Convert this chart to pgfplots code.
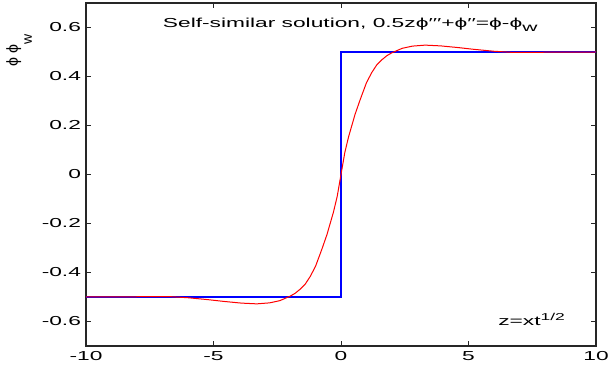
\documentclass[border=0pt]{standalone}
\usepackage{fontspec}
\setmainfont{Liberation Sans}[FakeStretch=1.75]
\newfontfamily\plainsans{Liberation Sans}
\usepackage{pgfplots}
\pgfplotsset{compat=1.18}
\definecolor{mblue}{RGB}{0,0,255}
\definecolor{mred}{RGB}{255,0,0}
\begin{document}
\begin{tikzpicture}
\begin{axis}[
  scale only axis, width=510pt, height=343pt,
  xmin=-10, xmax=10, ymin=-0.7, ymax=0.7,
  xtick={-10,-5,0,5,10},
  ytick={-0.6,-0.4,-0.2,0,0.2,0.4,0.6},
  tick pos=both, tick align=inside, major tick length=5pt,
  axis line style={black!85, line width=1.1pt},
  tick style={black!85, line width=0.8pt},
  tick label style={font=\fontsize{13}{15}\selectfont},
  /pgf/number format/assume math mode=true,
  yticklabel style={xshift=-1.5pt},
  xticklabel style={yshift=-2pt},
  clip=false,
]
\addplot[draw=mblue, line width=1.3pt] coordinates {(-10,-0.5) (0,-0.5) (0,0.5) (10,0.5)};
\addplot[draw=mred, line width=1pt] coordinates {
(-10,-0.5) (-8,-0.499) (-6.8,-0.498) (-6.0,-0.503) (-5.2,-0.511) (-4.6,-0.518)
(-3.9,-0.525) (-3.3,-0.528) (-2.8,-0.524) (-2.4,-0.515) (-2.0,-0.497) (-1.8,-0.485)
(-1.6,-0.468) (-1.4,-0.447) (-1.2,-0.415) (-1.0,-0.375) (-0.75,-0.305) (-0.55,-0.245)
(-0.3,-0.155) (-0.15,-0.09) (0,0)
(0.15,0.09) (0.3,0.155) (0.55,0.245) (0.75,0.305) (1.0,0.375) (1.2,0.415)
(1.4,0.447) (1.6,0.468) (1.8,0.485) (2.0,0.497) (2.4,0.515) (2.8,0.524)
(3.3,0.528) (3.9,0.525) (4.6,0.518) (5.2,0.511) (6.0,0.503) (6.8,0.498)
(8,0.499) (10,0.5)};
\coordinate (SW) at (rel axis cs:0,0);
\coordinate (NE) at (rel axis cs:1,1);
\node[anchor=base, font=\fontsize{13}{15}\selectfont, inner sep=0pt] at (rel axis cs:0.518,0.929)
  {Self-similar solution, 0.5zϕ′′′+ϕ′′=ϕ-ϕ\raisebox{-4pt}{\fontsize{12}{12}\selectfont w}};
\node[anchor=base west, font=\fontsize{13}{15}\selectfont, inner sep=0pt] at (rel axis cs:0.808,0.061)
  {z=xt\raisebox{5pt}{\fontsize{10}{10}\selectfont 1/2}};
\end{axis}
\node[rotate=90, anchor=base west, inner sep=0pt] at ([shift={(-68pt,279pt)}]SW)
  {\plainsans\fontsize{16}{18}\selectfont ϕ ϕ\raisebox{-14pt}{\fontsize{14}{14}\selectfont w}};
\pgfresetboundingbox
\path[use as bounding box] ([shift={(-86pt,-24pt)}]SW) rectangle ([shift={(14pt,3pt)}]NE);
\end{tikzpicture}
\end{document}
